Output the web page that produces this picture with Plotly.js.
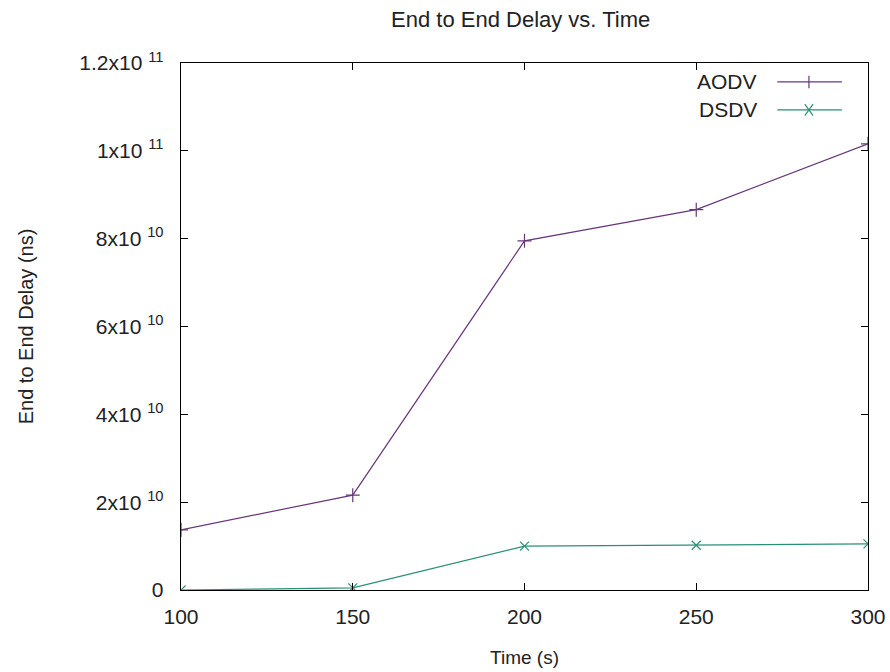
<!DOCTYPE html>
<html>
<head>
<meta charset="utf-8">
<script src="https://cdn.plot.ly/plotly-3.0.1.min.js"></script>
<style>html,body{margin:0;padding:0;background:#fff;}#chart{width:890px;height:672px;}</style>
</head>
<body>
<div id="chart"></div>
<script>
var time = [100, 150, 200, 250, 300];
var aodv = [1.37e10, 2.16e10, 7.95e10, 8.66e10, 1.016e11];
var dsdv = [0, 0.05e10, 1.0e10, 1.02e10, 1.05e10];
var seriesNames = ['AODV', 'DSDV'];
var seriesColors = ['#66387a', '#2a8f78'];
var yTickVals = [0, 2e10, 4e10, 6e10, 8e10, 1e11, 1.2e11];
var yTickText = ['0', '2x10 <sup>10</sup>', '4x10 <sup>10</sup>', '6x10 <sup>10</sup>', '8x10 <sup>10</sup>', '1x10 <sup>11</sup>', '1.2x10 <sup>11</sup>'];
var xTickVals = [100, 150, 200, 250, 300];

var font = 'Liberation Sans, Arial, sans-serif';
var txt = '#222';
var traces = [
  {x: time, y: aodv, name: seriesNames[0], mode: 'lines+markers', type: 'scatter',
   line: {color: seriesColors[0], width: 1.2},
   marker: {symbol: 'cross-thin', size: 10, line: {color: seriesColors[0], width: 1.2}}},
  {x: time, y: dsdv, name: seriesNames[1], mode: 'lines+markers', type: 'scatter',
   line: {color: seriesColors[1], width: 1.2},
   marker: {symbol: 'x-thin', size: 9, line: {color: seriesColors[1], width: 1.2}}}
];

// legend drawn gnuplot-style (text left, sample right)
var legY = [0.964, 0.911];
var shapes = [];
var annotations = [];
for (var i = 0; i < 2; i++) {
  shapes.push({type: 'line', xref: 'paper', yref: 'paper', x0: 0.868, x1: 0.962, y0: legY[i], y1: legY[i],
               line: {color: seriesColors[i], width: 1.2}});
  annotations.push({xref: 'paper', yref: 'paper', x: 0.842, y: legY[i], xanchor: 'right', yanchor: 'middle',
                    text: seriesNames[i], showarrow: false, font: {family: font, size: 21, color: txt}});
}
// legend markers
shapes.push({type: 'line', xref: 'paper', yref: 'paper', x0: 0.914, x1: 0.914, y0: legY[0] - 0.012, y1: legY[0] + 0.012,
             line: {color: seriesColors[0], width: 1.2}});
shapes.push({type: 'line', xref: 'paper', yref: 'paper', x0: 0.908, x1: 0.920, y0: legY[1] - 0.011, y1: legY[1] + 0.011,
             line: {color: seriesColors[1], width: 1.2}});
shapes.push({type: 'line', xref: 'paper', yref: 'paper', x0: 0.908, x1: 0.920, y0: legY[1] + 0.011, y1: legY[1] - 0.011,
             line: {color: seriesColors[1], width: 1.2}});

var layout = {
  width: 890, height: 672,
  paper_bgcolor: '#fff', plot_bgcolor: '#fff',
  margin: {l: 181, r: 22, t: 63, b: 82},
  showlegend: false,
  title: {text: 'End to End Delay vs. Time', x: 0.585, xanchor: 'center', y: 0.972, yanchor: 'middle',
          font: {family: font, size: 22, color: txt}},
  xaxis: {range: [100, 300], tickvals: xTickVals, ticks: 'inside', ticklen: 7, tickcolor: '#000',
          showline: true, linecolor: '#000', linewidth: 1.3, mirror: 'ticks', showgrid: false, zeroline: false,
          ticklabelstandoff: 7,
          tickfont: {family: font, size: 21, color: txt},
          title: {text: 'Time (s)', font: {family: font, size: 19, color: txt}, standoff: 24}},
  yaxis: {range: [0, 1.2e11], tickvals: yTickVals, ticktext: yTickText, ticks: 'inside', ticklen: 7, tickcolor: '#000',
          showline: true, linecolor: '#000', linewidth: 1.3, mirror: 'ticks', showgrid: false, zeroline: false,
          ticklabelstandoff: 12,
          tickfont: {family: font, size: 21, color: txt},
          title: {text: 'End to End Delay (ns)', font: {family: font, size: 20, color: txt}, standoff: 40}},
  shapes: shapes,
  annotations: annotations
};

Plotly.newPlot('chart', traces, layout, {displayModeBar: false, staticPlot: true});
</script>
</body>
</html>
